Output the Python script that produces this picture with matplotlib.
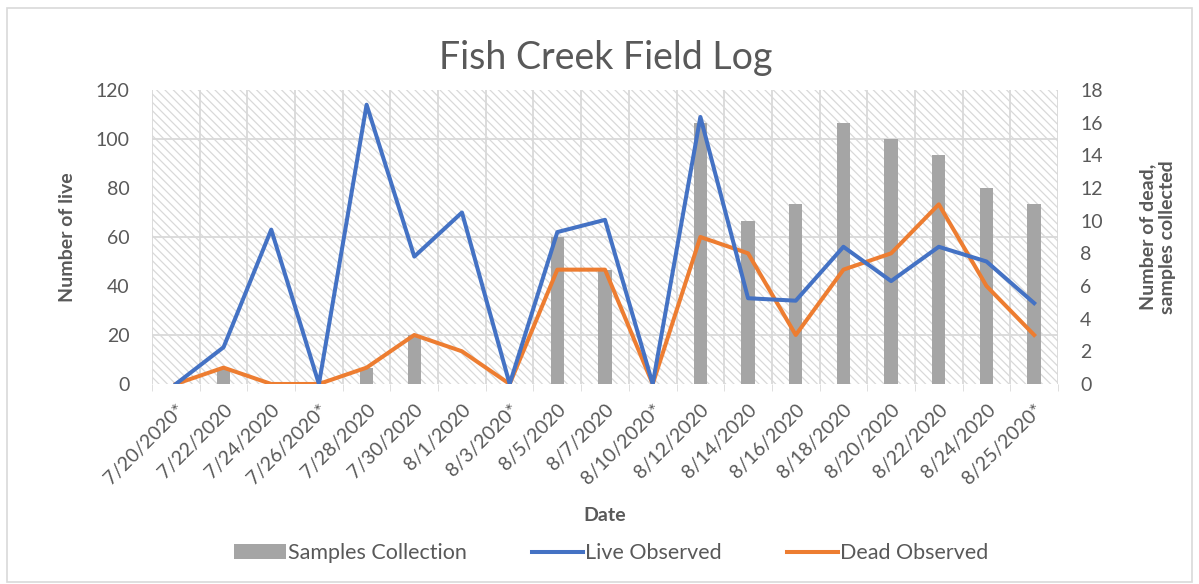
import matplotlib.pyplot as plt
import numpy as np
from matplotlib.patches import Rectangle, Patch
from matplotlib.lines import Line2D

plt.rcParams['font.family'] = ['Lato', 'DejaVu Sans']
plt.rcParams['hatch.color'] = '#e3e3e3'
plt.rcParams['hatch.linewidth'] = 0.9

dates = ['7/20/2020*', '7/22/2020', '7/24/2020', '7/26/2020*', '7/28/2020',
         '7/30/2020', '8/1/2020', '8/3/2020*', '8/5/2020', '8/7/2020',
         '8/10/2020*', '8/12/2020', '8/14/2020', '8/16/2020', '8/18/2020',
         '8/20/2020', '8/22/2020', '8/24/2020', '8/25/2020*']
live = [0, 15, 63, 0, 114, 52, 70, 0, 62, 67, 0, 109, 35, 34, 56, 42, 56, 50, 33]
dead = [0, 1, 0, 0, 1, 3, 2, 0, 7, 7, 0, 9, 8, 3, 7, 8, 11, 6, 3]
samples = [0, 1, 0, 0, 1, 3, 0, 0, 9, 7, 0, 16, 10, 11, 16, 15, 14, 12, 11]

blue = '#4472C4'
orange = '#ED7D31'
grey = '#A5A5A5'
txt = '#595959'
grid = '#d9d9d9'
lw = 2.9

fig = plt.figure(figsize=(11.99, 5.84), dpi=100)
fig.patches.append(Rectangle((0.006, 0.004), 0.988, 0.982, transform=fig.transFigure,
                             fill=False, edgecolor=grid, linewidth=1.2))

# main axes: right-hand scale (dead, samples)
ax = fig.add_axes([0.1268, 0.3425, 0.7556, 0.5034])
x = np.arange(len(dates))
ax.patch.set_facecolor('white')
ax.patch.set_hatch('\\\\\\\\')
ax.patch.set_edgecolor(grid)

ax.bar(x, samples, width=0.28, color=grey, zorder=3)
ax.plot(x, dead, color=orange, linewidth=lw, zorder=4, solid_joinstyle='round')
ax.set_ylim(0, 18)
ax.set_xlim(-0.5, len(dates) - 0.5)

# twin axes: left-hand scale (live)
ax2 = ax.twinx()
ax2.plot(x, live, color=blue, linewidth=lw, zorder=5, solid_joinstyle='round')
ax2.set_ylim(0, 120)

ax.yaxis.tick_right()
ax.yaxis.set_label_position('right')
ax.set_yticks(np.arange(0, 19, 2))
ax.set_yticks(np.arange(0, 19, 3), minor=True)
ax.tick_params(axis='y', which='both', length=0, labelsize=14, labelcolor=txt, pad=16,
               left=False, labelleft=False, right=False, labelright=True)
ax.tick_params(axis='y', which='minor', labelright=False)
ax.set_ylabel('Number of dead,\nsamples collected', fontsize=14, fontweight='bold',
              color=txt, labelpad=26)
ax.grid(axis='y', which='minor', color=grid, linewidth=1.3, zorder=1)

ax.set_xticks(x)
ax.set_xticklabels(dates, rotation=45, ha='right', rotation_mode='anchor',
                   fontsize=14, color=txt)
ax.set_xticks(np.arange(-0.5, len(dates), 1), minor=True)
ax.tick_params(axis='x', which='major', length=0, pad=12)
ax.tick_params(axis='x', which='minor', length=5, color=grid)
ax.grid(axis='x', which='minor', color=grid, linewidth=1.3, zorder=1)
ax.set_xlabel('Date', fontsize=14, fontweight='bold', color=txt, labelpad=14)
ax.set_axisbelow(True)
for s in ax.spines.values():
    s.set_visible(False)

ax2.yaxis.tick_left()
ax2.yaxis.set_label_position('left')
ax2.set_yticks(np.arange(0, 121, 20))
ax2.tick_params(axis='y', length=0, labelsize=14, labelcolor=txt, pad=16,
                right=False, labelright=False, left=False, labelleft=True)
ax2.set_ylabel('Number of live', fontsize=14, fontweight='bold', color=txt, labelpad=14)
for s in ax2.spines.values():
    s.set_visible(False)

fig.text(0.505, 0.9, 'Fish Creek Field Log', ha='center', va='center',
         fontsize=27, color=txt)

handles = [Patch(facecolor=grey), Line2D([], [], color=blue, linewidth=lw),
           Line2D([], [], color=orange, linewidth=lw)]
fig.legend(handles, ['Samples Collection', 'Live Observed', 'Dead Observed'],
           loc='center', bbox_to_anchor=(0.51, 0.053), ncol=3, frameon=False,
           fontsize=15.5, labelcolor=txt, columnspacing=3.0, handlelength=2.4,
           handletextpad=0.1)

fig.savefig('out.png', dpi=100)
